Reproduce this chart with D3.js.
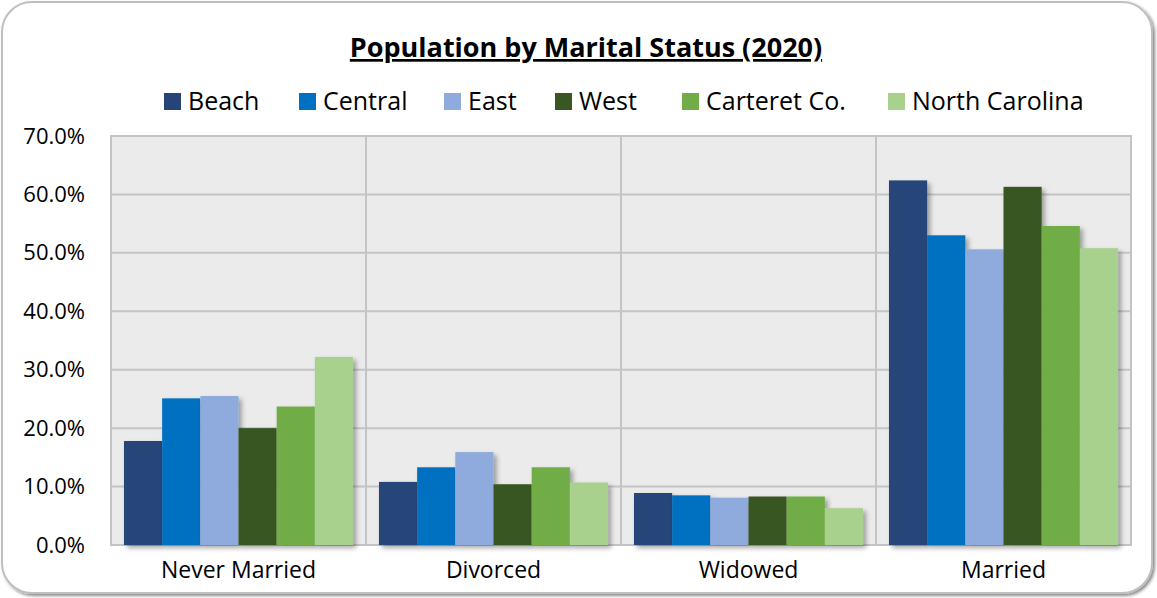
<!DOCTYPE html>
<html>
<head>
<meta charset="utf-8">
<script src="https://cdn.jsdelivr.net/npm/d3@7"></script>
<style>
  body { margin: 0; background: #fff; }
  text { font-family: "Open Sans", "Noto Sans", sans-serif; fill: #000; }
</style>
</head>
<body>
<div id="chart"></div>
<script>
const categories = ["Never Married", "Divorced", "Widowed", "Married"];
const seriesNames = ["Beach", "Central", "East", "West", "Carteret Co.", "North Carolina"];
const seriesColors = ["#264478", "#0070C0", "#8FAADC", "#385723", "#70AD47", "#A9D18E"];
// percent values, one array per series, in category order
const beach    = [17.8, 10.8, 8.9, 62.4];
const central  = [25.1, 13.3, 8.5, 53.0];
const east     = [25.5, 15.9, 8.1, 50.6];
const west     = [20.0, 10.4, 8.3, 61.3];
const carteret = [23.7, 13.3, 8.3, 54.6];
const nc       = [32.2, 10.7, 6.3, 50.8];
const yTicks = [0, 10, 20, 30, 40, 50, 60, 70];

const seriesValues = [beach, central, east, west, carteret, nc];

const W = 1157, H = 598;
const margin = {left: 111, right: 26, top: 136, bottom: 53};

var svg = d3.select("#chart")
            .append("svg")
            .attr("width", W)
            .attr("height", H);

var defs = svg.append("defs");
defs.append("filter")
    .attr("id", "barShadow")
    .attr("x", "-20%").attr("y", "-20%")
    .attr("width", "160%").attr("height", "160%")
  .append("feDropShadow")
    .attr("dx", 3).attr("dy", 3)
    .attr("stdDeviation", 2.5)
    .attr("flood-color", "#000")
    .attr("flood-opacity", 0.35);
defs.append("filter")
    .attr("id", "boxShadow")
    .attr("x", "-5%").attr("y", "-5%")
    .attr("width", "110%").attr("height", "110%")
  .append("feDropShadow")
    .attr("dx", 2).attr("dy", 2)
    .attr("stdDeviation", 1.5)
    .attr("flood-color", "#000")
    .attr("flood-opacity", 0.45);

// outer chart frame
svg.append("rect")
   .attr("x", 2).attr("y", 2)
   .attr("width", W - 7).attr("height", H - 7)
   .attr("rx", 30).attr("ry", 30)
   .attr("fill", "#fff")
   .attr("stroke", "#BFBFBF")
   .attr("stroke-width", 2)
   .attr("filter", "url(#boxShadow)");

var x0 = d3.scaleBand()
           .domain(categories)
           .range([margin.left, W - margin.right])
           .paddingInner(0)
           .paddingOuter(0);
var x1 = d3.scaleBand()
           .domain(seriesNames)
           .range([0, x0.bandwidth()])
           .paddingInner(0)
           .paddingOuter(0.34);
var y = d3.scaleLinear()
          .domain([0, 70])
          .range([H - margin.bottom, margin.top]);

// plot area background
svg.append("rect")
   .attr("x", margin.left)
   .attr("y", y(70))
   .attr("width", x0.range()[1] - margin.left)
   .attr("height", y(0) - y(70))
   .attr("fill", "#EBEBEB")
   .attr("stroke", "#C4C4C4")
   .attr("stroke-width", 2);

// horizontal grid
svg.append("g")
   .selectAll("line")
   .data(yTicks)
   .join("line")
   .attr("x1", margin.left).attr("x2", x0.range()[1])
   .attr("y1", d => y(d)).attr("y2", d => y(d))
   .attr("stroke", "#C4C4C4")
   .attr("stroke-width", 2);

// vertical category separators
svg.append("g")
   .selectAll("line")
   .data(categories.slice(1))
   .join("line")
   .attr("x1", d => x0(d)).attr("x2", d => x0(d))
   .attr("y1", y(70)).attr("y2", y(0))
   .attr("stroke", "#C4C4C4")
   .attr("stroke-width", 2);

// bars
var groups = svg.append("g")
   .selectAll("g")
   .data(seriesNames)
   .join("g")
   .attr("fill", (d, i) => seriesColors[i])
   .attr("filter", "url(#barShadow)");

groups.selectAll("rect")
   .data((s, i) => categories.map((c, j) => ({cat: c, series: s, value: seriesValues[i][j]})))
   .join("rect")
   .attr("x", d => x0(d.cat) + x1(d.series))
   .attr("y", d => y(d.value))
   .attr("width", x1.bandwidth())
   .attr("height", d => y(0) - y(d.value));

// y axis
var yAxis = d3.axisLeft(y)
              .tickValues(yTicks)
              .tickSize(0)
              .tickPadding(26)
              .tickFormat(d => d.toFixed(1) + "%");
var gy = svg.append("g")
   .attr("transform", "translate(" + margin.left + ",0)")
   .call(yAxis);
gy.select(".domain").remove();
gy.selectAll("text")
  .attr("font-size", 22)
  .style("font-family", "'Open Sans', sans-serif");

// x axis
var xAxis = d3.axisBottom(x0).tickSize(0).tickPadding(17);
var gx = svg.append("g")
   .attr("transform", "translate(0," + y(0) + ")")
   .call(xAxis);
gx.select(".domain").remove();
gx.selectAll("text")
  .attr("font-size", 23)
  .style("font-family", "'Open Sans', sans-serif");

// title
svg.append("text")
   .attr("x", 586)
   .attr("y", 57)
   .attr("text-anchor", "middle")
   .attr("font-size", 27)
   .attr("font-weight", "bold")
   .attr("text-decoration", "underline")
   .text("Population by Marital Status (2020)");

// legend
var legendX = [164, 299, 444, 555, 682, 888];
var legend = svg.append("g")
   .selectAll("g")
   .data(seriesNames)
   .join("g")
   .attr("transform", (d, i) => "translate(" + legendX[i] + ",93)");
legend.append("rect")
   .attr("width", 17).attr("height", 17)
   .attr("fill", (d, i) => seriesColors[i]);
legend.append("text")
   .attr("x", 24).attr("y", 17)
   .attr("font-size", 25)
   .text(d => d);
</script>
</body>
</html>
